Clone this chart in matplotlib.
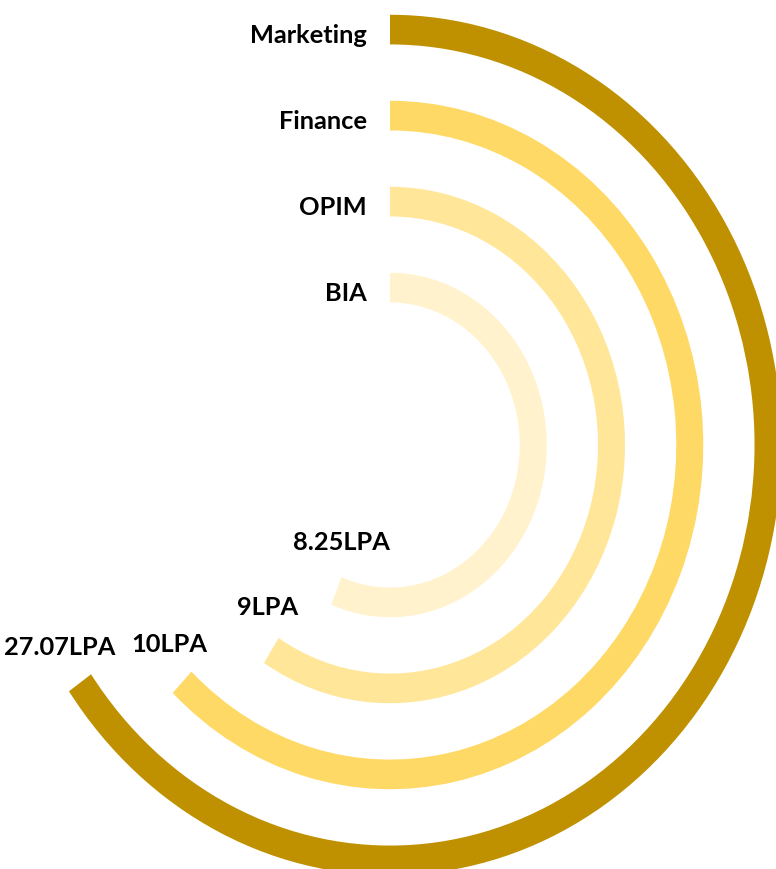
import numpy as np
import matplotlib
matplotlib.use("Agg")
import matplotlib.pyplot as plt

# rings, outermost first
categories = ["Marketing", "Finance", "OPIM", "BIA"]
salary_labels = ["27.07LPA", "10LPA", "9LPA", "8.25LPA"]
arc_share = [0.653, 0.622, 0.590, 0.561]  # fraction of a full turn covered by each ring
colors = ["#BF9000", "#FFD966", "#FFE699", "#FFF2CC"]

W, H = 776, 870
fig = plt.figure(figsize=(W / 100, H / 100), dpi=100)

# centre of the rings sits at (390, 446) px; chart is cropped on the right
cx, cy = 390, 446
half_w, half_h = 425, 467
ax = fig.add_axes(
    [(cx - half_w) / W, (H - cy - half_h) / H, 2 * half_w / W, 2 * half_h / H],
    projection="polar",
)
ax.set_aspect("auto")
ax.set_theta_zero_location("N")
ax.set_theta_direction(-1)

ring_r = np.arange(len(categories), 0, -1)  # 4 .. 1
ax.barh(ring_r, np.array(arc_share) * 2 * np.pi, left=0, height=0.345,
        color=colors, edgecolor="none")
ax.set_ylim(-0.83, 4.6)
ax.axis("off")

font = dict(family=["Lato", "DejaVu Sans"], fontweight="bold", fontsize=18.3, color="black")

# category names left of the ring starts
for r, name in zip(ring_r, categories):
    ax.annotate(name, xy=(0, r), xytext=(-23, -12), textcoords="offset pixels",
                ha="right", va="baseline", **font)

# salary labels near the ring ends (pixel positions: right edge, baseline)
label_pos = [(115, 655), (207, 652), (298, 615), (390, 550)]
for (x, y), txt in zip(label_pos, salary_labels):
    fig.text(x / W, 1 - y / H, txt, ha="right", va="baseline", **font)

fig.savefig("out.png", dpi=100)
